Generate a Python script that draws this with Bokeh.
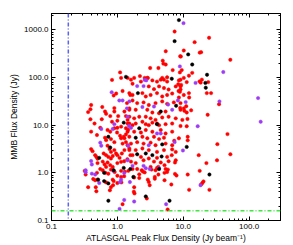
from bokeh.plotting import figure
from bokeh.models import LogAxis, CustomJSTickFormatter, Span, Range1d, FixedTicker
from bokeh.embed import file_html
from bokeh.resources import INLINE

# ---- data (ATLASGAL peak flux [Jy/beam], MMB flux [Jy]) ----
red_points = [
    (7.4, 920), (5.43, 355), (4.89, 225), (5.0, 195), (5.43, 187), (3.15, 158), (4.2, 158), (6.92, 143),
    (8.9, 128), (1.1, 128), (1.14, 98), (0.83, 89), (2.2, 107), (2.6, 98), (2.9, 98), (3.4, 87),
    (4.56, 90), (5.1, 90), (5.7, 101), (9.0, 279),
    (24.7, 680), (14.9, 551), (10.2, 368), (17.8, 332), (18.7, 340), (9.2, 275), (51.9, 235), (9.5, 143),
    (13.7, 125), (12.2, 109), (9.1, 90), (19.2, 90), (17.7, 83), (18.4, 78), (11.3, 80), (24, 80),
    (8.4, 72), (9.1, 65), (9.3, 70), (8.5, 52), (8.9, 50), (12.2, 47), (22.8, 47), (26.5, 47),
    (12.3, 38), (9.1, 29), (35, 27.5), (11.1, 25), (9.0, 23), (13.2, 20.5), (10.4, 20), (11.3, 18.4),
    (23.5, 16.5), (11.6, 13.5),
    (11.3, 9.5), (47, 6.5), (33, 4.0), (52, 2.45), (17.2, 2.35), (22.5, 1.6), (32.6, 1.83), (17.8, 1.1),
    (11.7, 0.92), (19.5, 0.61), (18.7, 0.57), (25, 0.44), (12.3, 0.44), (11.7, 5.7), (11.7, 4.8), (7.3, 4.7),
    (6.8, 3.1), (6.7, 2.35), (7.5, 1.65), (5.2, 1.45), (7.5, 0.95), (5.2, 0.7), (6.6, 0.57), (5.8, 0.17),
    (2.8, 0.29), (4.2, 0.92), (3.7, 0.82), (3.0, 0.64), (4.2, 1.33),
    (1.7, 1.2), (2.0, 1.2), (4.0, 1.27), (5.85, 1.17), (2.35, 1.13), (2.45, 1.06), (2.6, 1.02), (3.3, 1.17),
    (2.15, 0.93), (5.2, 1.0), (7.9, 0.88), (1.8, 0.8), (2.15, 0.78), (2.9, 0.72), (3.7, 0.75), (20.3, 0.66),
    (3.1, 0.55), (1.8, 0.5), (1.78, 0.40), (1.82, 0.37),
    (0.32, 1.1), (0.49, 1.0), (0.55, 1.2), (0.6, 1.13), (0.675, 1.33), (0.66, 1.0), (0.73, 0.96), (0.8, 1.17),
    (0.91, 1.04), (1.14, 1.1), (1.3, 1.06), (1.47, 1.1), (1.0, 0.87), (1.14, 0.82), (1.27, 0.85), (0.43, 0.74),
    (0.46, 0.70), (0.5, 0.72), (0.85, 0.72), (0.88, 0.67), (1.0, 0.61), (1.15, 0.63), (0.675, 0.63), (0.36, 0.5),
    (0.47, 0.5), (0.8, 0.5), (0.86, 0.55), (0.48, 0.41), (0.77, 0.43), (1.2, 0.22), (0.33, 0.92),
    (0.45, 10.8), (0.55, 8.8), (0.4, 7.3), (0.49, 6.2), (0.65, 5.45), (0.71, 7.9), (0.78, 7.3), (0.9, 8.6),
    (1.0, 8.8), (1.14, 9.3), (1.35, 8.6), (1.46, 8.0), (0.99, 7.0), (1.1, 6.0), (1.25, 5.7), (1.35, 6.4),
    (0.675, 4.85), (0.8, 5.1), (0.9, 4.4), (0.4, 3.15), (0.42, 2.85), (0.46, 2.35), (0.48, 2.16), (0.5, 1.98),
    (0.71, 3.7), (0.76, 3.15), (0.8, 2.75), (0.9, 3.0), (0.955, 2.55), (0.62, 2.55), (0.675, 2.35), (0.73, 2.16),
    (0.8, 2.0), (0.85, 2.25), (1.0, 2.35), (1.08, 2.06), (1.17, 2.55), (1.28, 3.0), (1.35, 4.4), (1.43, 3.8),
    (1.2, 4.1), (1.14, 5.3), (1.28, 5.3), (0.6, 1.72), (0.64, 1.5), (0.5, 1.6), (0.71, 1.65), (0.78, 1.45),
    (0.85, 1.33), (1.0, 1.6), (1.14, 1.7), (1.27, 1.75), (1.42, 1.93), (1.52, 3.0), (1.58, 2.35),
    (0.88, 42), (0.96, 46), (1.2, 52), (1.57, 43), (1.4, 29), (0.4, 26.5), (0.39, 21.5), (0.36, 18.8),
    (0.59, 24), (0.65, 19.3), (0.675, 17.3), (0.9, 22.8), (0.9, 19.3), (1.28, 19.3), (1.52, 21), (0.78, 15.5),
    (1.03, 15.5), (1.35, 15.5), (0.58, 13.3), (0.39, 13.3), (0.83, 11.8), (1.0, 12.4), (1.43, 12.9), (1.52, 10.8),
    (1.43, 98), (1.61, 90), (1.8, 98), (1.7, 74), (2.28, 82), (2.85, 98), (4.0, 82), (4.8, 98),
    (5.7, 82), (8.6, 87), (10.2, 98), (3.0, 65), (3.6, 57), (4.3, 65), (5.1, 60), (6.0, 56),
    (7.7, 65), (9.1, 56), (1.52, 47), (1.7, 43), (2.4, 47), (2.7, 40), (3.2, 43), (4.0, 47),
    (4.8, 40), (5.7, 43), (6.8, 46), (8.6, 38), (10.2, 43), (1.7, 33), (2.0, 29), (2.5, 30),
    (3.0, 26.5), (3.8, 29), (4.8, 31.5), (5.7, 28), (7.2, 30), (1.52, 22.5), (1.9, 21), (2.85, 21),
    (3.4, 18.4), (4.3, 17.8), (5.4, 19.3), (9.1, 21), (10.2, 22.5), (1.52, 15), (1.8, 13.9), (2.15, 15),
    (2.7, 15), (3.2, 13.9), (3.8, 12.9), (4.8, 14.5), (6.0, 15), (7.7, 13.9), (9.7, 12.9), (1.43, 10.8),
    (1.9, 10.8), (2.4, 11.8), (3.0, 10.0), (3.4, 11.3), (4.0, 10.8), (5.4, 10.5), (6.8, 10.8),
    (1.7, 10.0), (2.7, 10.5), (4.3, 10.0), (9.1, 9.6), (1.43, 7.3), (1.8, 7.3), (2.28, 7.0), (2.7, 7.9),
    (3.4, 7.3), (4.56, 7.9), (5.4, 6.7), (6.8, 7.3), (1.52, 5.7), (2.4, 5.7), (2.85, 5.3), (3.6, 5.7),
    (4.3, 5.1), (5.1, 5.45), (8.6, 5.3), (1.61, 4.1), (2.0, 4.4), (2.5, 4.1), (3.2, 4.3), (3.8, 3.8),
    (5.4, 4.1), (6.8, 3.8), (1.52, 3.25), (1.9, 3.0), (2.4, 3.25), (3.0, 3.0), (4.0, 2.75), (5.1, 3.0),
    (7.7, 2.75), (1.7, 2.35), (2.28, 2.16), (3.0, 2.0), (4.0, 2.06), (5.7, 2.16), (1.61, 1.72), (1.9, 1.6),
    (2.5, 1.83), (3.6, 1.72), (4.56, 1.65), (6.0, 1.75), (7.7, 1.83), (3.2, 1.33), (3.8, 1.13), (5.4, 1.2),
    (5.7, 1.04),
]

purple_points = [
    (10.1, 1380), (8.9, 171), (2.6, 89), (40.6, 130), (15.4, 77), (137, 37), (8.3, 33), (10.9, 30.5),
    (35.5, 31.5), (150, 11.8), (16.6, 9.5), (9.9, 2.95), (18.3, 0.55), (3.1, 1.2), (1.55, 0.64), (1.8, 0.25),
    (5.5, 0.22), (0.33, 1.03), (0.41, 0.96), (0.87, 1.1), (1.27, 0.99), (1.14, 0.72), (1.1, 0.64), (0.53, 0.61),
    (1.27, 0.27), (1.08, 0.175), (0.82, 49), (1.07, 33), (1.2, 33), (1.4, 22.5), (0.9, 10.5), (2.0, 66),
    (2.5, 66), (2.75, 87), (1.52, 31.5), (2.4, 24), (3.6, 24.6), (5.9, 27), (6.8, 21), (1.43, 15),
    (1.5, 9.6), (1.61, 8.8), (4.0, 6.7), (4.56, 6.7), (7.4, 4.4), (3.0, 3.8), (1.43, 1.83), (1.7, 1.4),
    (2.5, 1.4), (2.7, 1.25), (4.3, 1.25), (0.57, 8.3), (0.85, 8.3), (0.55, 4.3), (0.57, 3.7), (0.4, 1.77),
    (0.41, 1.5), (0.33, 1.13), (1.46, 3.7), (0.46, 0.92),
]

black_points = [
    (8.6, 1600), (7.4, 578), (1.35, 103), (6.7, 94), (11.9, 305), (13.7, 187), (23, 114), (21.7, 77),
    (22, 61), (7.8, 25.5), (25, 0.92), (11.3, 3.5), (6.2, 0.26), (2.7, 0.32), (4.7, 2.2), (4.3, 1.2),
    (1.75, 0.82), (0.63, 1.0), (1.25, 1.27), (1.57, 1.2), (0.63, 0.67), (0.73, 0.6), (0.73, 0.26), (0.73, 5.7),
    (0.78, 3.4), (0.53, 2.06), (0.88, 1.13), (1.25, 11.3), (2.05, 47), (4.56, 19.3), (4.0, 10.5), (2.15, 8.6),
    (1.9, 5.45), (4.8, 3.95), (2.0, 2.45), (2.7, 2.55), (3.4, 2.35), (0.51, 0.72),
]

peak_flux_limit = 0.18   # vertical dash-dot line (Jy/beam)
mmb_flux_limit = 0.16    # horizontal dash-dot line (Jy)

x_ticks = [0.1, 1.0, 10.0, 100.0]
y_ticks = [0.1, 1.0, 10.0, 100.0, 1000.0]
x_minor = [m * d for d in (0.1, 1, 10, 100) for m in range(1, 10)]
y_minor = [m * d for d in (0.1, 1, 10, 100, 1000) for m in range(1, 10)]

FONT = "Liberation Sans"

p = figure(width=293, height=245, x_axis_type="log", y_axis_type="log",
           x_range=Range1d(0.1, 300), y_range=Range1d(0.1, 2200),
           output_backend="svg", toolbar_location=None,
           min_border_left=51, min_border_right=13, min_border_top=13, min_border_bottom=25)
p.grid.visible = False
p.outline_line_color = "black"
p.outline_line_width = 1
p.background_fill_color = "white"
p.border_fill_color = "white"

fmt = CustomJSTickFormatter(code="return tick.toFixed(1);")
blank = CustomJSTickFormatter(code="return '';")


def style_axis(ax, labels=True):
    ax.major_tick_in = 4
    ax.major_tick_out = 0
    ax.minor_tick_in = 2
    ax.minor_tick_out = 0
    ax.axis_line_color = "black"
    ax.major_tick_line_color = "black"
    ax.minor_tick_line_color = "black"
    ax.major_label_text_font = FONT
    ax.major_label_text_font_size = "8px"
    ax.major_label_text_color = "black"
    ax.axis_label_text_font = FONT
    ax.axis_label_text_font_size = "8.5px"
    ax.axis_label_text_font_style = "normal"
    ax.axis_label_text_color = "black"
    ax.formatter = fmt if labels else blank
    if not labels:
        ax.major_label_standoff = 0


p.xaxis.ticker = FixedTicker(ticks=x_ticks, minor_ticks=x_minor)
p.yaxis.ticker = FixedTicker(ticks=y_ticks, minor_ticks=y_minor)
for ax in p.xaxis + p.yaxis:
    style_axis(ax)
p.xaxis.axis_label = "ATLASGAL Peak Flux Density (Jy beam\u207b\u00b9)"
p.yaxis.axis_label = "MMB Flux Density (Jy)"
p.xaxis.major_label_standoff = 3
p.xaxis.axis_label_standoff = 1
p.yaxis.major_label_standoff = 3
p.yaxis.axis_label_standoff = 2

top = LogAxis(ticker=FixedTicker(ticks=x_ticks, minor_ticks=x_minor))
right = LogAxis(ticker=FixedTicker(ticks=y_ticks, minor_ticks=y_minor))
style_axis(top, labels=False)
style_axis(right, labels=False)
p.add_layout(top, "above")
p.add_layout(right, "right")

p.add_layout(Span(location=peak_flux_limit, dimension="height", line_color="#5b63f0",
                  line_dash="4 2 1 2", line_width=1.5))
p.add_layout(Span(location=mmb_flux_limit, dimension="width", line_color="#3ee83e",
                  line_dash="4 2 1 2", line_width=1.5))

for pts, col in ((red_points, "#ff0000"), (purple_points, "#9d3cf5"), (black_points, "#000000")):
    xs = [a for a, b in pts]
    ys = [b for a, b in pts]
    p.scatter(xs, ys, size=3.4, fill_color=col, line_color=col, line_width=0.5)

open("out.html", "w").write(file_html(p, INLINE))
